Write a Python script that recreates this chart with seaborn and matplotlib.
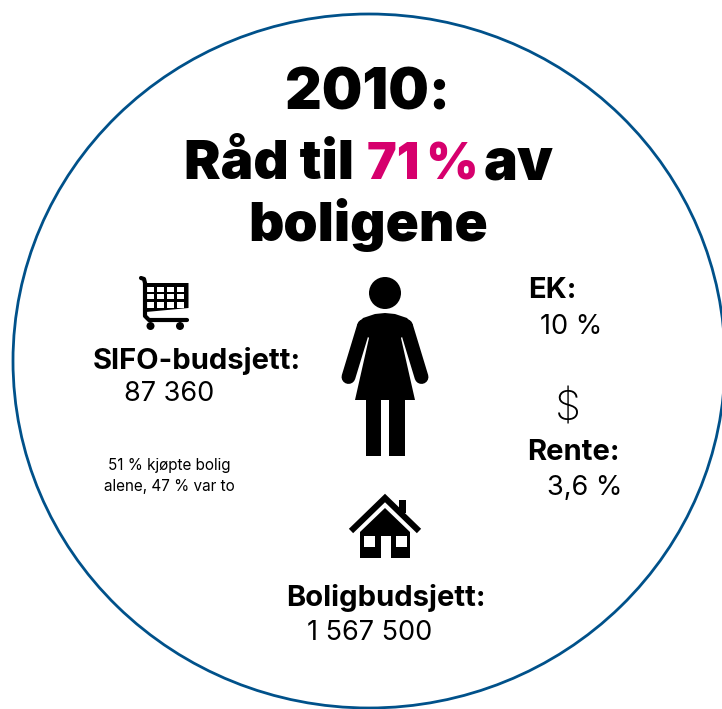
import matplotlib.pyplot as plt
import matplotlib.patches as mpatches
import seaborn as sns

# Texts
year_title = "2010:"
title_start = "Råd til"
title_share = "71\u2009%"
title_end = "av"
title_last = "boligene"
labels = ["SIFO-budsjett:", "EK:", "Rente:", "Boligbudsjett:"]
values = ["87 360", "10 %", "3,6 %", "1 567 500"]
note = "51 % kjøpte bolig\nalene, 47 % var to"

sns.set_theme(style="white")
plt.rcParams['font.family'] = ['Inter', 'DejaVu Sans']

fig, ax = plt.subplots(figsize=(7.22, 7.09), dpi=100)
ax.set_position([0, 0, 1, 1])
ax.set_xlim(0, 722)
ax.set_ylim(709, 0)
ax.axis('off')

# big circle, runs off the right edge
ax.add_patch(mpatches.Ellipse((369, 361), 712, 694, fill=False, ec='#00518a', lw=2))

# title
ax.text(367.5, 110, year_title, ha='center', va='baseline', fontsize=41, fontweight='black', color='black')
ax.text(184, 179, title_start, ha='left', va='baseline', fontsize=39.5, fontweight='black', color='black')
ax.text(367, 179, title_share, ha='left', va='baseline', fontsize=36, fontweight='black', color='#d6006d')
ax.text(484, 179, title_end, ha='left', va='baseline', fontsize=41, fontweight='black', color='black')
ax.text(368, 241, title_last, ha='center', va='baseline', fontsize=39.5, fontweight='black', color='black')

# labels and values
label_pos = [(93, 361), (528, 291), (527, 453), (286, 598)]
value_pos = [(124, 394), (540, 327), (547, 488), (307, 633)]
for lab, (x, y) in zip(labels, label_pos):
    ax.text(x, y, lab, ha='left', va='center', fontsize=21, fontweight='bold', color='black')
for val, (x, y) in zip(values, value_pos):
    ax.text(x, y, val, ha='left', va='center', fontsize=19.5, fontweight='normal', color='black')
ax.text(169, 476, note, ha='center', va='center', fontsize=11, color='black', linespacing=1.45)
ax.text(568, 410, "$", ha='center', va='center', fontsize=30, fontweight='light', color='black')

# woman
ax.add_patch(mpatches.Circle((385, 293), 16, color='black', lw=0))
ax.add_patch(mpatches.Polygon([(357, 325), (363, 318), (375, 314), (385, 313), (395, 314), (407, 318), (413, 325),
                               (401, 338), (415, 400), (355, 400), (369, 338)], color='black', lw=0))
ax.plot([364, 348.5], [326, 377], color='black', lw=10, solid_capstyle='round')
ax.plot([406, 421.5], [326, 377], color='black', lw=10, solid_capstyle='round')
ax.add_patch(mpatches.Rectangle((365.5, 400), 15.5, 56, color='black', lw=0))
ax.add_patch(mpatches.Rectangle((389, 400), 16, 56, color='black', lw=0))

# cart
ax.add_patch(mpatches.Polygon([(145, 283), (188.5, 283), (188.5, 308), (146, 312)], color='black', lw=0))
for cx in [146.7, 156.7, 166.7, 176.7]:
    for cy, ch in [(287, 4.7), (294, 5), (301.7, 6)]:
        ax.add_patch(mpatches.Rectangle((cx, cy), 7.6, ch, color='white', lw=0))
ax.plot([141, 144, 145, 145, 149, 187], [278, 279, 283, 316, 320, 320], color='black', lw=3, solid_capstyle='round', solid_joinstyle='round')
ax.add_patch(mpatches.Circle((150.5, 326), 4, color='black', lw=0))
ax.add_patch(mpatches.Circle((180, 326), 4, color='black', lw=0))

# house
ax.plot([351, 385, 419], [531, 498, 531], color='black', lw=4.4, solid_capstyle='butt', solid_joinstyle='miter')
ax.add_patch(mpatches.Rectangle((399, 500), 7, 13, color='black', lw=0))
ax.add_patch(mpatches.Polygon([(385, 508), (410, 532), (410, 558), (360, 558), (360, 532)], color='black', lw=0))
for wx in [364, 396]:
    ax.add_patch(mpatches.Rectangle((wx, 536), 11, 11, color='white', lw=0))
ax.add_patch(mpatches.Rectangle((381, 536), 10, 22, color='white', lw=0))

fig.savefig('out.png', dpi=100)
